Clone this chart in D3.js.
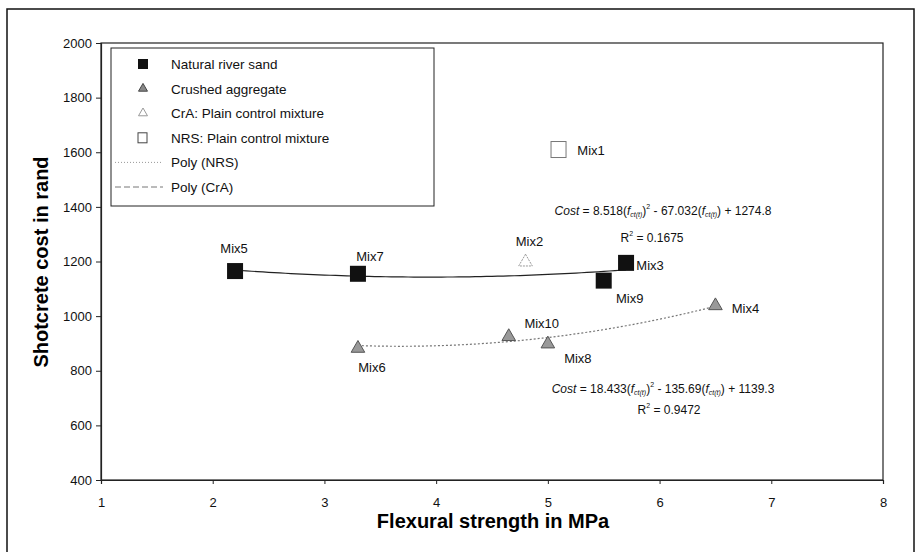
<!DOCTYPE html>
<html>
<head>
<meta charset="utf-8">
<script src="https://cdn.jsdelivr.net/npm/d3@7"></script>
<style>
  body { margin: 0; background: #fff; }
  svg { font-family: "Liberation Sans", Arial, sans-serif; }
</style>
</head>
<body>
<svg id="chart" width="922" height="552"></svg>
<script>
// data
const nrsMixes = ["Mix5", "Mix7", "Mix9", "Mix3"];
const nrsStrength = [2.2, 3.3, 5.5, 5.7];
const nrsCost = [1165, 1155, 1130, 1195];

const craMixes = ["Mix6", "Mix10", "Mix8", "Mix4"];
const craStrength = [3.3, 4.65, 5.0, 6.5];
const craCost = [882, 925, 898, 1038];

const ctrlMixes = ["Mix2", "Mix1"];
const ctrlStrength = [4.8, 5.1];
const ctrlCost = [1198, 1610];

// trend coefficients from the chart (a, b, c)
const polyNRS = [8.518, -67.032, 1274.8];
const polyCrA = [18.433, -135.69, 1139.3];

const xTicks = [1, 2, 3, 4, 5, 6, 7, 8];
const yTicks = [400, 600, 800, 1000, 1200, 1400, 1600, 1800, 2000];

const legendItems = ["Natural river sand", "Crushed aggregate", "CrA: Plain control mixture",
  "NRS: Plain control mixture", "Poly (NRS)", "Poly (CrA)"];

const svg = d3.select("#chart");
const margin = {left: 101, top: 43, right: 883, bottom: 480};

const x = d3.scaleLinear().domain([1, 8]).range([margin.left, margin.right]);
const y = d3.scaleLinear().domain([400, 2000]).range([margin.bottom, margin.top]);

// outer frame
svg.append("rect").attr("x", 7).attr("y", 9).attr("width", 907).attr("height", 560)
  .attr("fill", "none").attr("stroke", "#111").attr("stroke-width", 1.5);

// plot box
svg.append("rect").attr("x", margin.left).attr("y", margin.top)
  .attr("width", margin.right - margin.left).attr("height", margin.bottom - margin.top)
  .attr("fill", "none").attr("stroke", "#222").attr("stroke-width", 1.2);

const xAxis = svg.append("g").attr("transform", `translate(0,${margin.bottom})`)
  .call(d3.axisBottom(x).tickValues(xTicks).tickSize(4).tickPadding(14).tickFormat(d3.format("d")));
const yAxis = svg.append("g").attr("transform", `translate(${margin.left},0)`)
  .call(d3.axisLeft(y).tickValues(yTicks).tickSize(5).tickPadding(4).tickFormat(d3.format("d")));
[xAxis, yAxis].forEach(a => {
  a.select(".domain").attr("stroke", "#222").attr("stroke-width", 1.2);
  a.selectAll(".tick line").attr("stroke", "#222");
  a.selectAll("text").attr("font-family", "Liberation Sans, Arial, sans-serif")
    .attr("font-size", 13).attr("fill", "#111");
});

svg.append("text").attr("x", 493).attr("y", 528).attr("text-anchor", "middle")
  .attr("font-size", 20).attr("font-weight", "bold").text("Flexural strength in MPa");
svg.append("text").attr("transform", "translate(48,262) rotate(-90)").attr("text-anchor", "middle")
  .attr("font-size", 20).attr("font-weight", "bold").text("Shotcrete cost in rand");

// trend lines
const poly = (c, f) => c[0] * f * f + c[1] * f + c[2];
const line = d3.line().x(d => x(d[0])).y(d => y(d[1]));
const sample = (c, lo, hi) => d3.range(lo, hi + 0.001, 0.05).map(f => [f, poly(c, f)]);

svg.append("path").datum(sample(polyNRS, 2.2, 5.7)).attr("d", line)
  .attr("fill", "none").attr("stroke", "#222").attr("stroke-width", 1.2);
svg.append("path").datum(sample(polyCrA, 3.3, 6.5)).attr("d", line)
  .attr("fill", "none").attr("stroke", "#777").attr("stroke-width", 1.2)
  .attr("stroke-dasharray", "2,2");

// markers
const tri = d3.symbol().type(d3.symbolTriangle).size(80);
const nrs = nrsStrength.map((s, i) => ({s, c: nrsCost[i], m: nrsMixes[i]}));
const cra = craStrength.map((s, i) => ({s, c: craCost[i], m: craMixes[i]}));

svg.selectAll(".nrs").data(nrs).enter().append("rect")
  .attr("x", d => x(d.s) - 8).attr("y", d => y(d.c) - 8)
  .attr("width", 16).attr("height", 16).attr("fill", "#111");

svg.selectAll(".cra").data(cra).enter().append("path")
  .attr("d", tri).attr("transform", d => `translate(${x(d.s)},${y(d.c)})`)
  .attr("fill", "#999").attr("stroke", "#555").attr("stroke-width", 1);

// plain control mixtures
svg.append("path").attr("d", tri)
  .attr("transform", `translate(${x(ctrlStrength[0])},${y(ctrlCost[0])})`)
  .attr("fill", "#fff").attr("stroke", "#999").attr("stroke-dasharray", "2,1");
svg.append("rect").attr("x", x(ctrlStrength[1]) - 8).attr("y", y(ctrlCost[1]) - 8)
  .attr("width", 15).attr("height", 16).attr("fill", "#fff").attr("stroke", "#777");

// point labels (offsets in px)
const labelOffsets = {
  Mix5: [-1, -23], Mix7: [12, -18], Mix9: [26, 17], Mix3: [24, 2],
  Mix6: [14, 19], Mix10: [33, -14], Mix8: [30, 14], Mix4: [30, 2],
  Mix2: [4, -21], Mix1: [32, 0]
};
const allPts = nrs.concat(cra, ctrlMixes.map((m, i) => ({s: ctrlStrength[i], c: ctrlCost[i], m})));
svg.selectAll(".lbl").data(allPts).enter().append("text")
  .attr("x", d => x(d.s) + labelOffsets[d.m][0])
  .attr("y", d => y(d.c) + labelOffsets[d.m][1] + 5)
  .attr("text-anchor", "middle").attr("font-size", 13).attr("fill", "#111")
  .text(d => d.m);

// equations
function equation(cx, cy, c) {
  const t = svg.append("text").attr("x", cx).attr("y", cy).attr("text-anchor", "middle")
    .attr("font-size", 12).attr("fill", "#111");
  t.append("tspan").attr("font-style", "italic").text("Cost");
  t.append("tspan").text(` = ${c[0]}(`);
  t.append("tspan").attr("font-style", "italic").text("f");
  t.append("tspan").attr("font-style", "italic").attr("font-size", 7).attr("dy", 2).text("ct(t)");
  t.append("tspan").attr("dy", -2).text(")");
  t.append("tspan").attr("font-size", 7).attr("dy", -6).text("2");
  t.append("tspan").attr("dy", 6).text(` - ${Math.abs(c[1])}(`);
  t.append("tspan").attr("font-style", "italic").text("f");
  t.append("tspan").attr("font-style", "italic").attr("font-size", 7).attr("dy", 2).text("ct(t)");
  t.append("tspan").attr("dy", -2).text(`) + ${c[2]}`);
}
function rsq(cx, cy, v) {
  const t = svg.append("text").attr("x", cx).attr("y", cy).attr("text-anchor", "middle")
    .attr("font-size", 12).attr("fill", "#111");
  t.append("tspan").text("R");
  t.append("tspan").attr("font-size", 7).attr("dy", -6).text("2");
  t.append("tspan").attr("dy", 6).text(` = ${v}`);
}
equation(663, 215, polyNRS);
rsq(652, 242, "0.1675");
equation(663, 393, polyCrA);
rsq(669, 414, "0.9472");

// legend
const lg = svg.append("g");
lg.append("rect").attr("x", 111).attr("y", 48).attr("width", 323).attr("height", 158)
  .attr("fill", "#fff").attr("stroke", "#222").attr("stroke-width", 1);
const rowY = d3.scalePoint().domain(legendItems).range([64, 187]);
lg.selectAll(".lt").data(legendItems).enter().append("text")
  .attr("x", 171).attr("y", d => rowY(d) + 5).attr("font-size", 13.5).attr("fill", "#111")
  .text(d => d);
lg.append("rect").attr("x", 138).attr("y", rowY(legendItems[0]) - 5).attr("width", 10).attr("height", 10).attr("fill", "#111");
lg.append("path").attr("d", d3.symbol().type(d3.symbolTriangle).size(35))
  .attr("transform", `translate(143,${rowY(legendItems[1])})`).attr("fill", "#888").attr("stroke", "#444");
lg.append("path").attr("d", d3.symbol().type(d3.symbolTriangle).size(35))
  .attr("transform", `translate(143,${rowY(legendItems[2])})`).attr("fill", "#fff").attr("stroke", "#999");
lg.append("rect").attr("x", 138).attr("y", rowY(legendItems[3]) - 5).attr("width", 9).attr("height", 10)
  .attr("fill", "#fff").attr("stroke", "#444");
lg.append("line").attr("x1", 115).attr("x2", 163).attr("y1", rowY(legendItems[4])).attr("y2", rowY(legendItems[4]))
  .attr("stroke", "#999").attr("stroke-dasharray", "1,2");
lg.append("line").attr("x1", 115).attr("x2", 163).attr("y1", rowY(legendItems[5])).attr("y2", rowY(legendItems[5]))
  .attr("stroke", "#777").attr("stroke-dasharray", "6,3");
</script>
</body>
</html>
